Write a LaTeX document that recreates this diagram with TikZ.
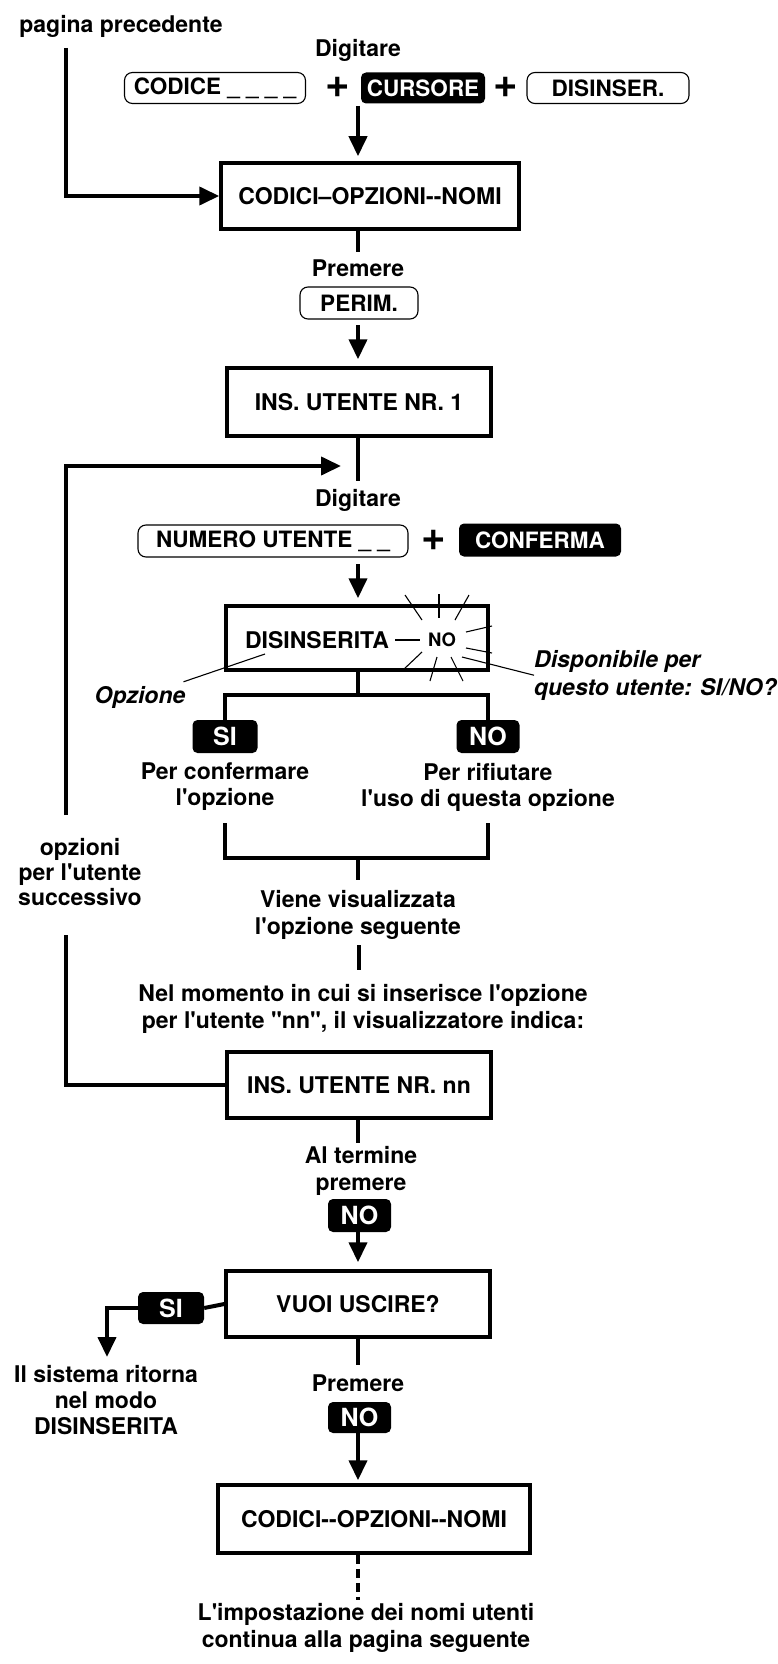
\documentclass[tikz,border=0pt]{standalone}
\usepackage{fontspec}
\setmainfont{TeX Gyre Heros}[Ligatures=TeXOff]
\usetikzlibrary{arrows.meta}
\begin{document}
\begin{tikzpicture}[x=1pt,y=-1pt,
  txt/.style={font=\bfseries\fontsize{23}{27}\selectfont, align=center, inner sep=0pt},
  itx/.style={font=\bfseries\itshape\fontsize{23}{28}\selectfont, align=left, inner sep=0pt},
  ibox/.style={draw, line width=3.5pt, font=\bfseries\fontsize{23}{26}\selectfont, inner sep=0pt, minimum height=66pt},
  wkey/.style={draw, line width=1.1pt, rounded corners=8pt, font=\bfseries\fontsize{22.5}{26}\selectfont, inner sep=0pt, minimum height=31pt},
  bkey/.style={fill=black, text=white, rounded corners=5pt, font=\bfseries\fontsize{22.5}{26}\selectfont, inner sep=0pt, minimum height=32pt},
  ynkey/.style={bkey, font=\bfseries\fontsize{25}{26}\selectfont},
  conn/.style={line width=4pt},
  arr/.style={conn, -{Triangle[width=18pt,length=20pt]}},
  ray/.style={line width=1.1pt},
  plus/.style={font=\bfseries\fontsize{42}{42}\selectfont, inner sep=0pt}
]
\useasboundingbox (0,0) rectangle (778,1664);

% top
\node[txt] (prev) at (121,26) {pagina precedente};
\node[txt] (dig1) at (358,50) {Digitare};
\node[wkey, minimum width=181pt] (codice) at (215,88) {CODICE \_ \_ \_ \_};
\node[plus] (plus1) at (338,87) {+};
\node[bkey, minimum width=124pt, minimum height=31pt] (cursore) at (423,88) {CURSORE};
\node[plus] (plus2) at (506,87) {+};
\node[wkey, minimum width=162pt] (disinser) at (608,88) {DISINSER.};

\node[ibox, minimum width=298pt] (box1) at (370,196) {CODICI–OPZIONI--NOMI};
\coordinate (p1) at (66,48);
\draw[arr] (p1) |- (box1.west);
\coordinate (a1) at (358,106);
\draw[arr, shorten >=5pt] (a1) -- (a1 |- box1.north);

\coordinate (a2) at (358,252);
\draw[conn] (a2 |- box1.south) -- (a2);
\node[txt] (prem1) at (358,268) {Premere};
\node[wkey, minimum width=118pt, minimum height=32pt] (perim) at (359,303) {PERIM.};
\node[ibox, minimum width=264pt, minimum height=68pt] (box2) at (359,402) {INS. UTENTE NR. 1};
\coordinate (a3) at (358,325);
\draw[arr, shorten >=7pt] (a3) -- (a3 |- box2.north);

\coordinate (a4) at (358,481);
\draw[conn] (a4 |- box2.south) -- (a4);
\coordinate (loopend) at (341,466);
\coordinate (lu) at (66,815);
\draw[arr] (lu) |- (loopend);

\node[txt] (dig2) at (358,500) {Digitare};
\node[wkey, minimum width=270pt, minimum height=32pt] (numero) at (273,541) {NUMERO UTENTE \_ \_};
\node[plus] (plus3) at (434,540) {+};
\node[bkey, minimum width=162pt, minimum height=33pt] (conferma) at (540,540) {CONFERMA};

\node[ibox, minimum width=262pt, minimum height=64pt] (box3) at (357,638) {};
\coordinate (a5) at (358,564);
\draw[arr, shorten >=6pt] (a5) -- (a5 |- box3.north);
\node[txt] (disins) at (317,640) {DISINSERITA};
\node[txt, font=\bfseries\fontsize{18.5}{20}\selectfont] (nov) at (442,640) {NO};
\coordinate (dsh) at (395,640);
\draw[ray] (dsh) -- (nov.west -| 420,0);
\draw[ray] (405,595) -- (422,620);
\draw[ray] (439,594) -- (439,618);
\draw[ray] (469,595) -- (455,620);
\draw[ray] (466,632) -- (492,626);
\draw[ray] (466,648) -- (492,653);
\draw[ray] (451,657) -- (463,681);
\draw[ray] (437,657) -- (430,681);
\draw[ray] (422,652) -- (403,670);

\node[itx] (opz) at (140,697) {Opzione};
\draw[ray] (opz.north east) ++(-2,-4) -- (265,654);
\node[itx, anchor=north west] (dispo) at (534,650) {Disponibile per\\questo utente: SI/NO?};
\draw[ray] (462,657) -- (dispo.west);

\coordinate (b0) at (358,695);
\draw[conn] (b0 |- box3.south) -- (b0);
\node[ynkey, minimum width=65pt, minimum height=33pt] (si) at (225,736.5) {SI};
\node[ynkey, minimum width=63pt, minimum height=33pt] (no) at (488,736.5) {NO};
\draw[conn, line cap=round, line join=miter] (si.north) -- (si.north |- b0) -- (no.north |- b0) -- (no.north);
\node[txt, font=\bfseries\fontsize{23}{26}\selectfont] (conf) at (225,787) {Per confermare\\l'opzione};
\node[txt, font=\bfseries\fontsize{23}{26}\selectfont] (rif) at (488,787) {Per rifiutare\\l'uso di questa opzione};

\coordinate (c1) at (225,823);
\coordinate (c2) at (488,823);
\coordinate (c0) at (358,858);
\draw[conn] (c1) -- (c1 |- c0) -- (c2 |- c0) -- (c2);
\coordinate (c3) at (358,880);
\draw[conn] (c0) -- (c3);
\node[txt] (viene) at (358,915) {Viene visualizzata\\l'opzione seguente};
\coordinate (d2) at (359,945);
\coordinate (d3) at (359,970);
\draw[conn] (d2) -- (d3);
\node[txt] (nel) at (363,1009) {Nel momento in cui si inserisce l'opzione\\per l'utente "nn", il visualizzatore indica:};

\node[ibox, minimum width=264pt] (box4) at (359,1085) {INS. UTENTE NR. nn};
\coordinate (ll) at (66,935);
\draw[conn] (box4.west) -| (ll);
\node[txt, font=\bfseries\fontsize{23}{25}\selectfont] (opzu) at (80,872) {opzioni\\per l'utente\\successivo};

\coordinate (e1) at (358,1143);
\draw[conn] (e1 |- box4.south) -- (e1);
\node[txt] (alt) at (361,1171) {Al termine\\premere};
\node[ynkey, minimum width=63pt, minimum height=33pt] (no2) at (359.5,1215.5) {NO};
\node[ibox, minimum width=264pt] (box5) at (358,1304) {VUOI USCIRE?};
\coordinate (e2) at (358,1232);
\draw[arr, shorten >=7pt] (e2) -- (e2 |- box5.north);

\node[ynkey, minimum width=66pt, minimum height=32pt] (si2) at (171,1308) {SI};
\draw[conn] (box5.west) -- (si2.east);
\coordinate (f1) at (107,1357);
\draw[arr] (si2.west) -| (f1);
\node[txt, font=\bfseries\fontsize{23}{26}\selectfont] (ritorna) at (106,1400) {Il sistema ritorna\\nel modo\\DISINSERITA};

\coordinate (e3) at (358,1365);
\draw[conn] (e3 |- box5.south) -- (e3);
\node[txt] (prem2) at (358,1383) {Premere};
\node[ynkey, minimum width=63pt, minimum height=31pt] (no3) at (359.5,1417.5) {NO};
\node[ibox, minimum width=312pt, minimum height=68pt] (box6) at (374,1519) {CODICI--OPZIONI--NOMI};
\coordinate (e4) at (358,1433);
\draw[arr, shorten >=3pt] (e4) -- (e4 |- box6.north);
\coordinate (e5) at (358,1600);
\draw[conn, dash pattern=on 9pt off 5pt] (e5 |- box6.south) -- (e5);
\node[txt] (impo) at (366,1628) {L'impostazione dei nomi utenti\\continua alla pagina seguente};
\end{tikzpicture}
\end{document}
